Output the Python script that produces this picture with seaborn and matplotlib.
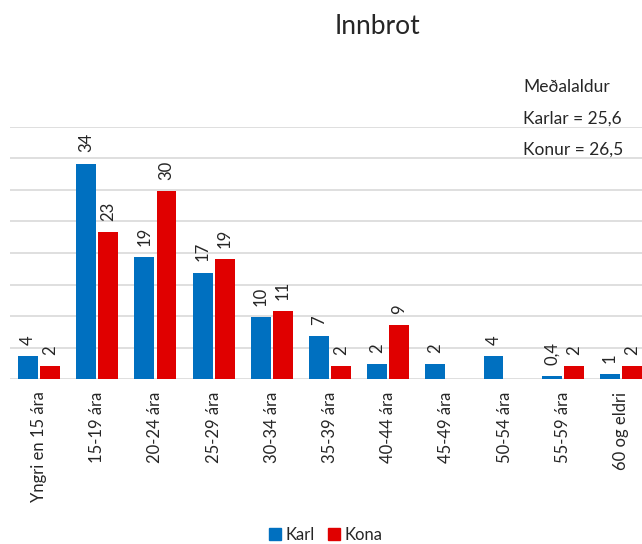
import matplotlib.pyplot as plt
import pandas as pd
import seaborn as sns

# Data
age_groups = ['Yngri en 15 ára', '15-19 ára', '20-24 ára', '25-29 ára', '30-34 ára',
              '35-39 ára', '40-44 ára', '45-49 ára', '50-54 ára', '55-59 ára', '60 og eldri']
karl = [3.6, 34.2, 19.4, 16.9, 9.8, 6.8, 2.4, 2.4, 3.6, 0.4, 0.8]
kona = [2.0, 23.3, 29.8, 19.1, 10.8, 2.0, 8.6, 0.0, 0.0, 2.0, 2.0]
karl_labels = ['4', '34', '19', '17', '10', '7', '2', '2', '4', '0,4', '1']
kona_labels = ['2', '23', '30', '19', '11', '2', '9', '', '', '2', '2']

df = pd.DataFrame({
    'Aldur': age_groups * 2,
    'Hlutfall': karl + kona,
    'Kyn': ['Karl'] * len(age_groups) + ['Kona'] * len(age_groups),
})

sns.set_style('white')
plt.rcParams['font.family'] = ['Lato', 'DejaVu Sans']

fig = plt.figure(figsize=(6.42, 5.44), dpi=100)
ax = fig.add_axes([10 / 642, 165 / 544, 640 / 642, 252 / 544])

sns.barplot(data=df, x='Aldur', y='Hlutfall', hue='Kyn', order=age_groups,
            palette={'Karl': '#0070C0', 'Kona': '#E00000'}, saturation=1,
            width=0.76, gap=0.1, edgecolor='none', ax=ax, legend=False)

for cont, labs in zip(ax.containers, [karl_labels, kona_labels]):
    ax.bar_label(cont, labels=labs, rotation=90, padding=8, fontsize=12)

ax.set_ylim(0, 40)
ax.set_xlim(-0.5, 10.5)
ax.set_yticks(range(0, 41, 5))
ax.set_yticklabels([])
ax.yaxis.grid(True, color='#D9D9D9', linewidth=1.2)
ax.set_axisbelow(True)
ax.tick_params(axis='both', length=0)
ax.tick_params(axis='x', labelsize=12, pad=9)
plt.setp(ax.get_xticklabels(), rotation=90)
ax.set_xlabel('')
ax.set_ylabel('')
sns.despine(ax=ax, left=True, bottom=True, top=True, right=True)

fig.text(378 / 642, 1 - 27 / 544, 'Innbrot', ha='center', va='center', fontsize=19)
fig.text(523 / 642, 1 - 87 / 544, 'Meðalaldur', ha='left', va='center', fontsize=12.5)
fig.text(523 / 642, 1 - 119 / 544, 'Karlar = 25,6', ha='left', va='center', fontsize=12.5)
fig.text(523 / 642, 1 - 150 / 544, 'Konur = 26,5', ha='left', va='center', fontsize=12.5)

handles = [plt.Rectangle((0, 0), 1, 1, color='#0070C0'),
           plt.Rectangle((0, 0), 1, 1, color='#E00000')]
fig.legend(handles, ['Karl', 'Kona'], loc='center', bbox_to_anchor=(326 / 642, 1 - 535 / 544),
           ncol=2, frameon=False, fontsize=12, handlelength=0.7, handleheight=0.7,
           handletextpad=0.3, columnspacing=0.8)

fig.savefig('out.png', dpi=100)
